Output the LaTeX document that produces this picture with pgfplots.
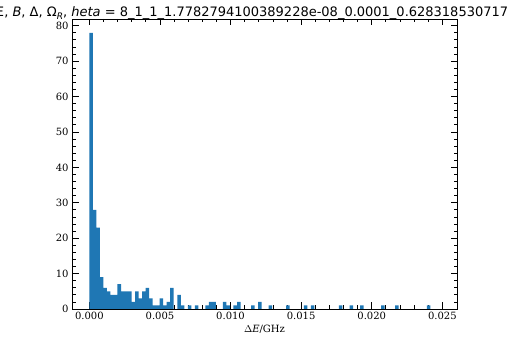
\documentclass[border=0pt]{standalone}
\usepackage{fontspec}
\setmainfont{DejaVu Serif}
\newfontfamily\titlefont{DejaVu Sans}
\usepackage{pgfplots}
\pgfplotsset{compat=1.18}
\definecolor{histblue}{HTML}{1F77B4}

\begin{document}
\begin{tikzpicture}
% page frame: the title is wider than the page and gets cut at both ends
\path[use as bounding box] (-72bp,-31bp) rectangle (436bp,309bp);
\clip (-72bp,-31bp) rectangle (436bp,309bp);
\begin{axis}[
  at={(0,0)}, anchor=south west,
  scale only axis, width=385bp, height=290bp,
  xmin=-0.00123, xmax=0.02604,
  ymin=0, ymax=81.9,
  xtick={0,0.005,0.01,0.015,0.02,0.025},
  ytick={0,10,20,30,40,50,60,70,80},
  minor x tick num=4, minor y tick num=4,
  tick align=inside,
  major tick length=6.5bp, minor tick length=3.5bp,
  every tick/.style={black, line width=0.8bp},
  axis line style={line width=0.8bp},
  scaled x ticks=false,
  xticklabel style={/pgf/number format/.cd, fixed, fixed zerofill, precision=3},
  /pgf/number format/assume math mode=true,
  tick label style={font=\fontsize{10bp}{12bp}\selectfont},
  xlabel={$\Delta$\textit{E}/GHz},
  xlabel style={font=\fontsize{10bp}{12bp}\selectfont, yshift=2bp},
]
% counts per bin (bin width 0.000249), left edge and count of each bin
\addplot[ybar interval, fill=histblue, draw=none] coordinates {
  (0,78) (0.000249,28) (0.000498,23) (0.000747,9) (0.000996,6)
  (0.001245,5) (0.001494,4) (0.001743,4) (0.001992,7) (0.002241,5)
  (0.00249,5) (0.002739,5) (0.002988,2) (0.003237,5) (0.003486,3)
  (0.003735,5) (0.003984,6) (0.004233,3) (0.004482,1) (0.004731,1)
  (0.00498,3) (0.005229,1) (0.005478,2) (0.005727,6) (0.005976,0)
  (0.006225,4) (0.006474,1) (0.006723,0) (0.006972,1) (0.007221,0)
  (0.00747,1) (0.007719,0) (0.008217,1) (0.008466,2) (0.008715,2)
  (0.008964,0) (0.009462,2) (0.009711,1) (0.00996,0) (0.010209,1)
  (0.010458,2) (0.010707,0) (0.011454,1) (0.011703,0) (0.011952,2)
  (0.012201,0) (0.012699,1) (0.012948,0) (0.013944,1) (0.014193,0)
  (0.015189,1) (0.015438,0) (0.015687,1) (0.015936,0) (0.017679,1)
  (0.017928,0) (0.018426,1) (0.018675,0) (0.019173,1) (0.019422,0)
  (0.020667,1) (0.020916,0) (0.021663,1) (0.021912,0) (0.023904,1)
  (0.024153,0)
};
\end{axis}
\node[anchor=base, inner sep=0pt, font=\titlefont\fontsize{13bp}{15bp}\selectfont]
  at (196.7bp,292.5bp)
  {Ξ, \textit{B}, Δ, Ω\raisebox{-0.25em}{\fontsize{9bp}{11bp}\selectfont\itshape R}, \textit{heta} = 8\_1\_1\_1.7782794100389228e-08\_0.0001\_0.6283185307179586};
\end{tikzpicture}
\end{document}
